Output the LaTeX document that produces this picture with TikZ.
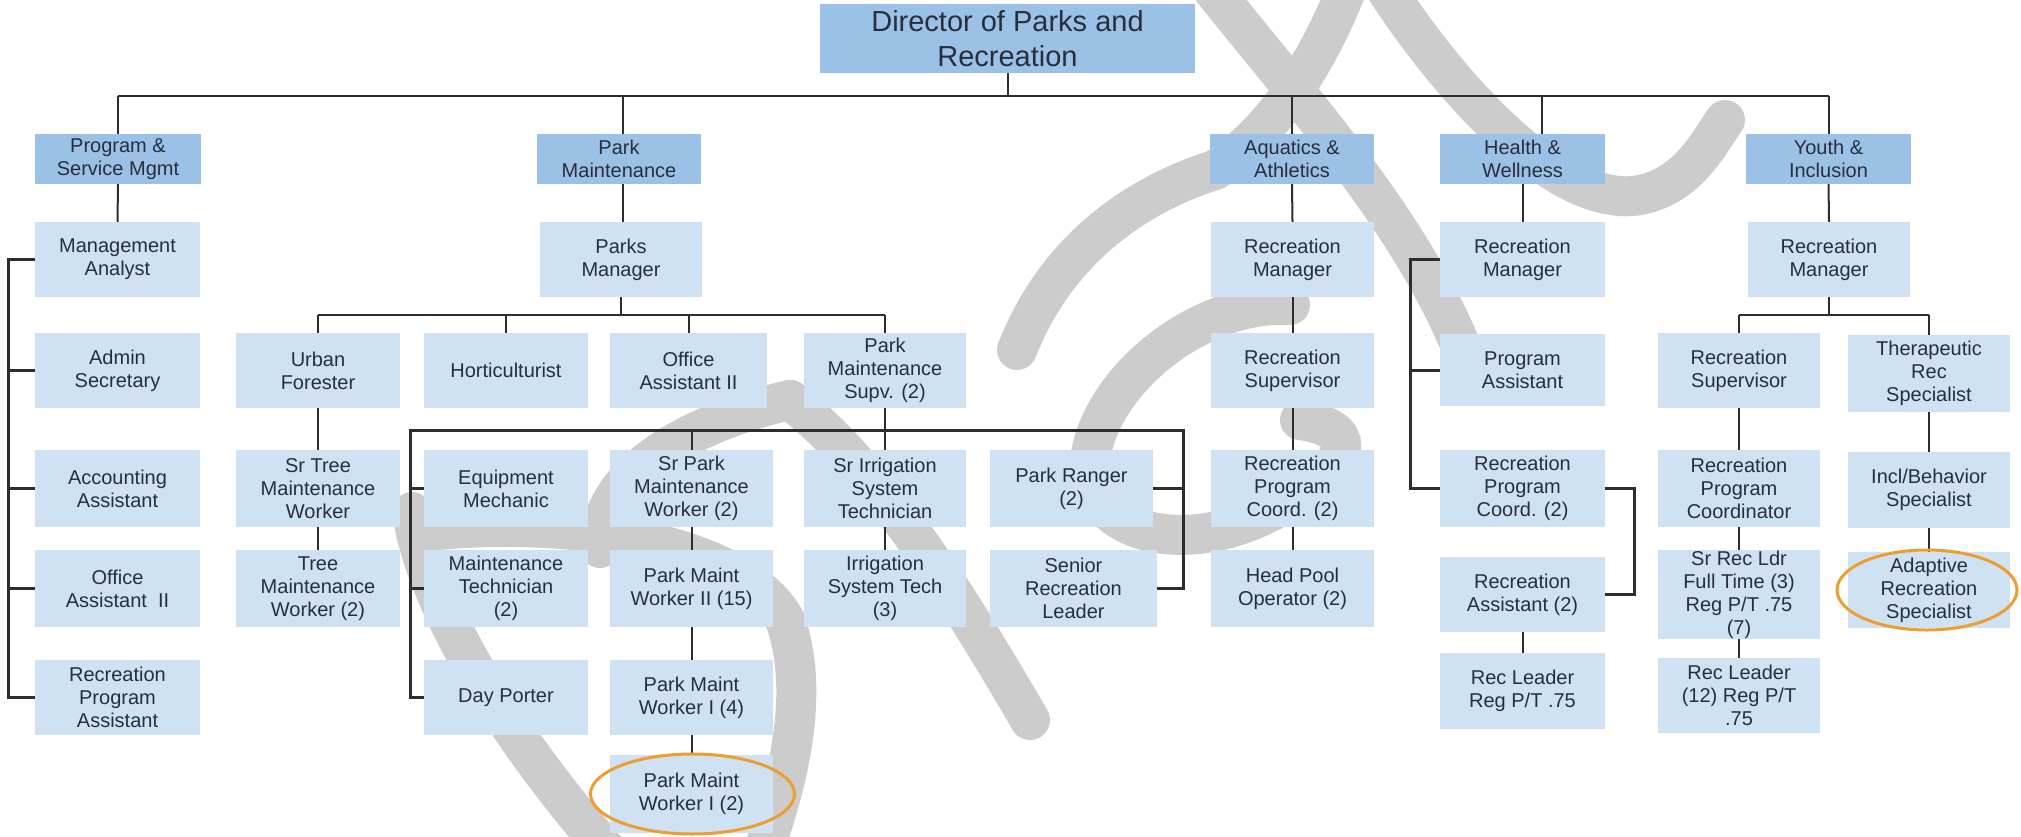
\documentclass[tikz,border=0pt]{standalone}
\usepackage{fontspec}
\setmainfont{Liberation Sans}
\definecolor{deptblue}{RGB}{155,194,230}
\definecolor{posblue}{RGB}{207,226,243}
\definecolor{linec}{RGB}{45,45,45}
\definecolor{txt}{RGB}{40,46,60}
\definecolor{wmgray}{RGB}{204,204,204}
\definecolor{ringc}{RGB}{238,158,48}
\newcommand\orgbox[7]{\node[#1, minimum width={#5-#3}, minimum height={#6-#4}] (#2) at ({(#3+#5)/2},{(#4+#6)/2}) {#7};}
\tikzset{
  basebox/.style={draw=none, inner sep=0pt, align=center, text=txt, font=\fontsize{20}{23}\selectfont},
  deptbox/.style={basebox, fill=deptblue},
  jobbox/.style={basebox, fill=posblue},
  topbox/.style={basebox, fill=deptblue, font=\fontsize{29}{35}\selectfont},
  ln/.style={draw=linec, line width=2pt},
  thk/.style={draw=linec, line width=3pt},
  wm/.style={draw=wmgray, line width=40pt, line cap=round},
  ring/.style={draw=ringc, line width=3pt}
}
\begin{document}
\begin{tikzpicture}[x=1pt,y=-1pt]
\useasboundingbox (0,0) rectangle (2021,836);
% watermark
\begin{scope}
\clip (0,0) rectangle (2021,836);
\draw[wm] (412,512) .. controls (425,600) and (500,730) .. (615,860);
\draw[wm] (420,532) .. controls (560,515) and (740,540) .. (785,620) .. controls (810,690) and (790,780) .. (760,860);
\draw[wm] (600,548) .. controls (598,470) and (700,420) .. (790,400);
\draw[wm] (790,400) .. controls (880,470) and (960,600) .. (1030,720);
\draw[wm] (1017,350) .. controls (1060,240) and (1150,190) .. (1215,170) .. controls (1275,130) and (1320,60) .. (1350,-20);
\draw[wm] (1205,-20) .. controls (1300,100) and (1420,230) .. (1470,370);
\draw[wm] (1290,305) .. controls (1200,300) and (1100,380) .. (1090,460) .. controls (1085,540) and (1200,560) .. (1290,500) .. controls (1340,470) and (1370,430) .. (1300,420);
\draw[wm] (1380,-20) .. controls (1450,90) and (1560,210) .. (1640,195) .. controls (1690,185) and (1710,140) .. (1725,120);
\end{scope}
% boxes
\orgbox{topbox}{dir}{820}{4}{1195}{73}{Director of Parks and\\Recreation}
\orgbox{deptbox}{prog}{35}{134}{201}{184}{Program \&\\Service Mgmt}
\orgbox{deptbox}{parkm}{537}{134}{701}{184}{Park\\Maintenance}
\orgbox{deptbox}{aqua}{1210}{134}{1374}{184}{Aquatics \&\\Athletics}
\orgbox{deptbox}{health}{1440}{134}{1605}{184}{Health \&\\Wellness}
\orgbox{deptbox}{youth}{1746}{134}{1911}{184}{Youth \&\\Inclusion}
% level 2
\orgbox{jobbox}{ma}{35}{222}{200}{297}{Management\\Analyst}
\orgbox{jobbox}{pmgr}{540}{222}{702}{297}{Parks\\Manager}
\orgbox{jobbox}{rmA}{1211}{222}{1374}{297}{Recreation\\Manager}
\orgbox{jobbox}{rmH}{1440}{222}{1605}{297}{Recreation\\Manager}
\orgbox{jobbox}{rmY}{1748}{222}{1910}{297}{Recreation\\Manager}
% level 3
\orgbox{jobbox}{admin}{35}{333}{200}{408}{Admin\\Secretary}
\orgbox{jobbox}{urban}{236}{333}{400}{408}{Urban\\Forester}
\orgbox{jobbox}{hort}{424}{333}{588}{408}{Horticulturist}
\orgbox{jobbox}{oa}{610}{333}{767}{408}{Office\\Assistant II}
\orgbox{jobbox}{supv}{804}{333}{966}{408}{Park\\Maintenance\\Supv. (2)}
\orgbox{jobbox}{rsA}{1211}{333}{1374}{408}{Recreation\\Supervisor}
\orgbox{jobbox}{pa}{1440}{334}{1605}{406}{Program\\Assistant}
\orgbox{jobbox}{rsY}{1658}{333}{1820}{408}{Recreation\\Supervisor}
\orgbox{jobbox}{ther}{1848}{335}{2010}{412}{Therapeutic\\Rec\\Specialist}
% level 4
\orgbox{jobbox}{acct}{35}{450}{200}{527}{Accounting\\Assistant}
\orgbox{jobbox}{srtree}{236}{450}{400}{527}{Sr Tree\\Maintenance\\Worker}
\orgbox{jobbox}{equip}{424}{450}{588}{527}{Equipment\\Mechanic}
\orgbox{jobbox}{srpark}{610}{450}{773}{527}{Sr Park\\Maintenance\\Worker (2)}
\orgbox{jobbox}{sirr}{804}{450}{966}{527}{Sr Irrigation\\System\\Technician}
\orgbox{jobbox}{ranger}{990}{450}{1153}{527}{Park Ranger\\(2)}
\orgbox{jobbox}{rpcA}{1211}{450}{1374}{527}{Recreation\\Program\\Coord. (2)}
\orgbox{jobbox}{rpcH}{1440}{450}{1605}{527}{Recreation\\Program\\Coord. (2)}
\orgbox{jobbox}{rpcY}{1658}{450}{1820}{527}{Recreation\\Program\\Coordinator}
\orgbox{jobbox}{incl}{1848}{452}{2010}{528}{Incl/Behavior\\Specialist}
% level 5
\orgbox{jobbox}{oab}{35}{550}{200}{627}{Office\\Assistant\ \ II}
\orgbox{jobbox}{tree}{236}{550}{400}{627}{Tree\\Maintenance\\Worker (2)}
\orgbox{jobbox}{mtech}{424}{550}{588}{627}{Maintenance\\Technician\\(2)}
\orgbox{jobbox}{pmwii}{610}{550}{773}{627}{Park Maint\\Worker II (15)}
\orgbox{jobbox}{irr}{804}{550}{966}{627}{Irrigation\\System Tech\\(3)}
\orgbox{jobbox}{senior}{990}{550}{1157}{627}{Senior\\Recreation\\Leader}
\orgbox{jobbox}{hpo}{1211}{550}{1374}{627}{Head Pool\\Operator (2)}
\orgbox{jobbox}{ra}{1440}{557}{1605}{632}{Recreation\\Assistant (2)}
\orgbox{jobbox}{srrec}{1658}{550}{1820}{639}{Sr Rec Ldr\\Full Time (3)\\Reg P/T .75\\(7)}
\orgbox{jobbox}{adapt}{1848}{552}{2010}{628}{Adaptive\\Recreation\\Specialist}
% level 6
\orgbox{jobbox}{rpa}{35}{660}{200}{735}{Recreation\\Program\\Assistant}
\orgbox{jobbox}{porter}{424}{660}{588}{735}{Day Porter}
\orgbox{jobbox}{pmwi}{610}{660}{773}{735}{Park Maint\\Worker I (4)}
\orgbox{jobbox}{recl}{1440}{653}{1605}{729}{Rec Leader\\Reg P/T .75}
\orgbox{jobbox}{reclY}{1658}{658}{1820}{733}{Rec Leader\\(12) Reg P/T\\.75}
% level 7
\orgbox{jobbox}{pmwib}{610}{755}{773}{833}{Park Maint\\Worker I (2)}
% coordinates for connector rails
\coordinate (tb) at (0,96);
\coordinate (pf) at (0,315);
\coordinate (yf) at (0,315);
\coordinate (mb) at (8,0);
\coordinate (sb) at (0,430);
\coordinate (sbl) at (410,0);
\coordinate (sbr) at (1183,0);
\coordinate (hb) at (1410,0);
\coordinate (hr) at (1634,0);
% top level
\draw[ln] (dir.south) -- (dir.south |- tb);
\draw[ln] (prog.north |- tb) -- (youth.north |- tb);
\draw[ln] (prog.north |- tb) -- (prog.north);
\draw[ln] ([xshift=4]parkm.north |- tb) -- ([xshift=4]parkm.north);
\draw[ln] (aqua.north |- tb) -- (aqua.north);
\draw[ln] ([xshift=19]health.north |- tb) -- ([xshift=19]health.north);
\draw[ln] (youth.north |- tb) -- (youth.north);
% department to manager
\draw[ln] (prog.south) -- (ma.north);
\draw[ln] ([xshift=4]parkm.south) -- ([xshift=2]pmgr.north);
\draw[ln] (aqua.south) -- (rmA.north);
\draw[ln] (health.south) -- (rmH.north);
\draw[ln] (youth.south) -- (rmY.north);
% program & service bracket
\draw[thk] (ma.west) -- (ma.west -| mb) -- (rpa.west -| mb) -- (rpa.west);
\draw[thk] (admin.west -| mb) -- (admin.west);
\draw[thk] (acct.west -| mb) -- (acct.west);
\draw[thk] (oab.west -| mb) -- (oab.west);
% parks manager fan-out
\draw[ln] (pmgr.south) -- (pmgr.south |- pf);
\draw[ln] (urban.north |- pf) -- (supv.north |- pf);
\draw[ln] (urban.north |- pf) -- (urban.north);
\draw[ln] (hort.north |- pf) -- (hort.north);
\draw[ln] (oa.north |- pf) -- (oa.north);
\draw[ln] (supv.north |- pf) -- (supv.north);
% forestry chain
\draw[ln] (urban.south) -- (srtree.north);
\draw[ln] (srtree.south) -- (tree.north);
% supervisor bracket
\draw[thk] (porter.west) -- (porter.west -| sbl) -- (sbl |- sb) -- (sbr |- sb) -- (senior.east -| sbr) -- (senior.east);
\draw[thk] (equip.west -| sbl) -- (equip.west);
\draw[thk] (mtech.west -| sbl) -- (mtech.west);
\draw[thk] (ranger.east) -- (ranger.east -| sbr);
\draw[ln] (supv.south) -- (sirr.north);
\draw[ln] (srpark.north |- sb) -- (srpark.north);
\draw[ln] (srpark.south) -- (pmwii.north);
\draw[ln] (pmwii.south) -- (pmwi.north);
\draw[ln] (pmwi.south) -- (pmwib.north);
\draw[ln] (sirr.south) -- (irr.north);
% aquatics chain
\draw[ln] (rmA.south) -- (rsA.north);
\draw[ln] (rsA.south) -- (rpcA.north);
\draw[ln] (rpcA.south) -- (hpo.north);
% health brackets
\draw[thk] (rmH.west) -- (rmH.west -| hb) -- (rpcH.west -| hb) -- (rpcH.west);
\draw[thk] (pa.west -| hb) -- (pa.west);
\draw[thk] (rpcH.east) -- (rpcH.east -| hr) -- (ra.east -| hr) -- (ra.east);
\draw[ln] (ra.south) -- (recl.north);
% youth
\draw[ln] (rmY.south) -- (rmY.south |- yf);
\draw[ln] (rsY.north |- yf) -- (ther.north |- yf);
\draw[ln] (rsY.north |- yf) -- (rsY.north);
\draw[ln] (ther.north |- yf) -- (ther.north);
\draw[ln] (rsY.south) -- (rpcY.north);
\draw[ln] (rpcY.south) -- (srrec.north);
\draw[ln] (srrec.south) -- (reclY.north);
\draw[ln] (ther.south) -- (incl.north);
\draw[ln] (incl.south) -- (adapt.north);
% highlight rings
\draw[ring] ([xshift=1]pmwib.center) ellipse [x radius=102, y radius=40];
\draw[ring] ([xshift=-2]adapt.center) ellipse [x radius=90, y radius=40];
\end{tikzpicture}
\end{document}
